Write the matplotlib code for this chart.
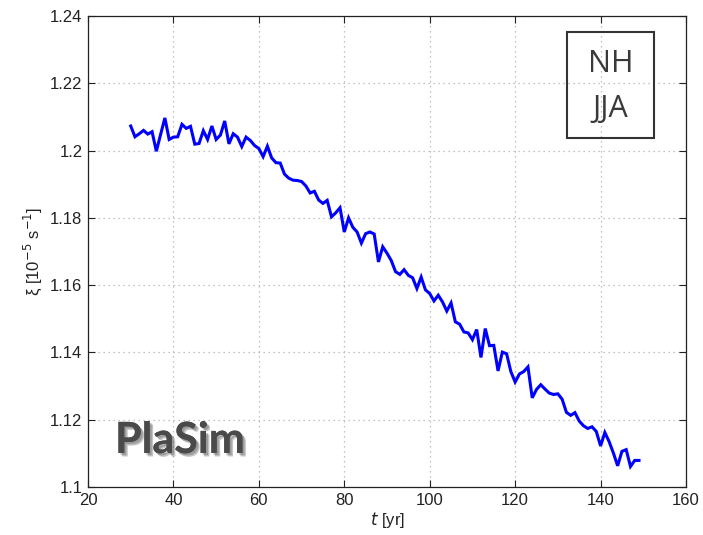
import matplotlib
matplotlib.use("Agg")
import matplotlib.pyplot as plt
import matplotlib.patheffects as pe
from matplotlib.patches import Rectangle

years = list(range(30, 150))
xi = [
    1.2073, 1.2041, 1.2050, 1.2060, 1.2049, 1.2056, 1.1998, 1.2048, 1.2097, 1.2033,
    1.2040, 1.2041, 1.2078, 1.2066, 1.2072, 1.2019, 1.2021, 1.2059, 1.2033, 1.2073,
    1.2033, 1.2046, 1.2088, 1.2020, 1.2050, 1.2040, 1.2012, 1.2040, 1.2030, 1.2015,
    1.2006, 1.1982, 1.2013, 1.1978, 1.1964, 1.1963, 1.1930, 1.1918, 1.1912, 1.1911,
    1.1908, 1.1895, 1.1874, 1.1879, 1.1853, 1.1843, 1.1852, 1.1803, 1.1815, 1.1830,
    1.1758, 1.1800, 1.1772, 1.1758, 1.1725, 1.1753, 1.1758, 1.1752, 1.1669, 1.1714,
    1.1695, 1.1673, 1.1640, 1.1632, 1.1646, 1.1629, 1.1622, 1.1590, 1.1624, 1.1586,
    1.1575, 1.1553, 1.1570, 1.1550, 1.1523, 1.1547, 1.1491, 1.1484, 1.1461, 1.1458,
    1.1438, 1.1468, 1.1385, 1.1471, 1.1420, 1.1421, 1.1345, 1.1401, 1.1396, 1.1343,
    1.1312, 1.1336, 1.1343, 1.1357, 1.1265, 1.1290, 1.1304, 1.1291, 1.1279, 1.1275,
    1.1277, 1.1261, 1.1222, 1.1213, 1.1221, 1.1196, 1.1182, 1.1174, 1.1179, 1.1165,
    1.1122, 1.1162, 1.1135, 1.1101, 1.1063, 1.1106, 1.1111, 1.1061, 1.1079, 1.1079,
]
xticks = [20, 40, 60, 80, 100, 120, 140, 160]
yticks = [1.1, 1.12, 1.14, 1.16, 1.18, 1.2, 1.22, 1.24]
ytick_labels = ["1.1", "1.12", "1.14", "1.16", "1.18", "1.2", "1.22", "1.24"]

plt.rcParams['font.family'] = ['Liberation Sans', 'DejaVu Sans']

fig = plt.figure(figsize=(7.03, 5.35), dpi=100)
ax = fig.add_axes([88/703, 48/535, 598/703, 471/535])

ax.plot(years, xi, color=(0, 0, 1), lw=2.2, solid_joinstyle='miter')

ax.set_xlim(20, 160)
ax.set_ylim(1.1, 1.24)
ax.set_xticks(xticks)
ax.set_yticks(yticks)
ax.set_yticklabels(ytick_labels)
ax.tick_params(direction='in', top=True, right=True, length=5, width=0.8,
               labelsize=12, colors='#222222', pad=4)
ax.grid(True, linestyle=(0, (1, 3)), color='#b0b0b0', lw=0.9)
for s in ax.spines.values():
    s.set_color('#222222')
    s.set_linewidth(0.9)

ax.set_xlabel(r"$t$ [yr]", fontsize=12, color='#222222', labelpad=2)
ax.set_ylabel("ξ [10$^{-5}$ s$^{-1}$]", fontsize=12, color='#222222', labelpad=4)

# NH / JJA box (figure pixel coordinates)
W, H = 703, 535
box = Rectangle((567/W, 1 - 138/H), 87/W, 106/H, transform=fig.transFigure,
                fill=False, edgecolor='#333333', lw=1.5)
fig.patches.append(box)
fig.text(610.5/W, 1 - 64/H, "NH", ha='center', va='center', fontsize=22,
         color='#3a3a3a', family=['Open Sans', 'DejaVu Sans'])
fig.text(610.5/W, 1 - 109/H, "JJA", ha='center', va='center', fontsize=22,
         color='#3a3a3a', family=['Open Sans', 'DejaVu Sans'])

t = fig.text(115/W, 1 - 440/H, "PlaSim", ha='left', va='center', fontsize=31,
             fontweight='bold', color='#4a4a4a', family=['Lato', 'DejaVu Sans'])
t.set_path_effects([
    pe.withSimplePatchShadow(offset=(2.5, -2.5), shadow_rgbFace='#555555', alpha=0.35),
    pe.withSimplePatchShadow(offset=(1.5, -1.5), shadow_rgbFace='#555555', alpha=0.35),
])

fig.savefig("out.png", dpi=100)
